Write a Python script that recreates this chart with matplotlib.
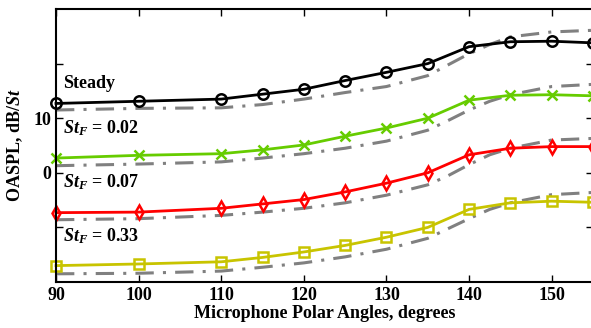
import numpy as np
import matplotlib.pyplot as plt

angles = [90, 100, 110, 115, 120, 125, 130, 135, 140, 145, 150, 155]
steady = [12.7, 13.1, 13.5, 14.4, 15.3, 16.9, 18.4, 20.0, 23.1, 24.0, 24.1, 23.8]
st002 = [2.7, 3.2, 3.5, 4.2, 5.1, 6.7, 8.2, 10.0, 13.3, 14.2, 14.3, 14.1]
st007 = [-7.3, -7.2, -6.5, -5.7, -4.9, -3.5, -1.9, 0.0, 3.3, 4.5, 4.8, 4.8]
st033 = [-17.0, -16.7, -16.3, -15.5, -14.5, -13.3, -11.8, -10.0, -6.7, -5.5, -5.2, -5.4]

# reference (gray dash-dot) curves
ref_angles = [90, 100, 110, 115, 120, 125, 130, 135, 137.5, 140, 142.5, 145, 150, 155]
ref_steady = [11.5, 11.8, 11.9, 12.5, 13.5, 14.7, 15.8, 17.8, 19.8, 21.8, 23.5, 24.9, 25.8, 26.1]
ref_st002 = [1.3, 1.6, 2.0, 2.7, 3.5, 4.5, 5.8, 7.8, 9.6, 11.5, 13.1, 14.3, 15.8, 16.2]
ref_st007 = [-8.6, -8.4, -7.8, -7.2, -6.5, -5.5, -4.1, -2.2, -0.5, 1.5, 3.3, 4.5, 6.0, 6.3]
ref_st033 = [-18.5, -18.4, -18.0, -17.3, -16.5, -15.4, -14.0, -12.0, -10.2, -8.4, -6.7, -5.5, -4.0, -3.6]

labels = ['Steady', r'$\mathit{St}_{\mathit{F}}$ = 0.02', r'$\mathit{St}_{\mathit{F}}$ = 0.07', r'$\mathit{St}_{\mathit{F}}$ = 0.33']
label_y = [15.6, 7.3, -2.7, -12.6]

plt.rcParams['font.family'] = 'Liberation Serif'
plt.rcParams['font.weight'] = 'bold'
plt.rcParams['mathtext.fontset'] = 'custom'
plt.rcParams['mathtext.rm'] = 'Liberation Serif:bold'
plt.rcParams['mathtext.it'] = 'Liberation Serif:bold:italic'

fig = plt.figure(figsize=(5.91, 3.28), dpi=100)
ax = fig.add_axes([56/591, 46/328, 537/591, 273/328])

for ref in [ref_steady, ref_st002, ref_st007, ref_st033]:
    ax.plot(ref_angles, ref, color='#808080', lw=2.2, dashes=[6, 3, 1, 3])

series = [
    (steady, 'k', 'o'),
    (st002, '#66cc00', 'x'),
    (st007, '#ff0000', 'd'),
    (st033, '#c8c400', 's'),
]
for vals, c, m in series:
    ax.plot(angles, vals, color=c, lw=2, marker=m, ms=7.5 if m != 's' else 6.5,
            mfc='none', mec=c, mew=1.8, clip_on=False)

for txt, y in zip(labels, label_y):
    ax.text(90.8, y, txt, fontsize=13, fontweight='bold', va='baseline', ha='left')

ax.set_xlim(90, 155)
ax.set_ylim(-20, 30)
ax.set_xticks([90, 100, 110, 120, 130, 140, 150])
ax.set_yticks([-10, 0, 10, 20])
ax.set_yticklabels(['', '0', '10', ''])
ax.tick_params(direction='in', top=True, right=True, labelsize=13, length=5, width=1)
ax.set_xlabel('Microphone Polar Angles, degrees', fontsize=13, fontweight='bold', labelpad=1)
ax.set_ylabel(r'OASPL, dB/$\mathit{St}$', fontsize=13, fontweight='bold', labelpad=6)
for s in ax.spines.values():
    s.set_linewidth(1.5)

fig.savefig('out.png', dpi=100)
